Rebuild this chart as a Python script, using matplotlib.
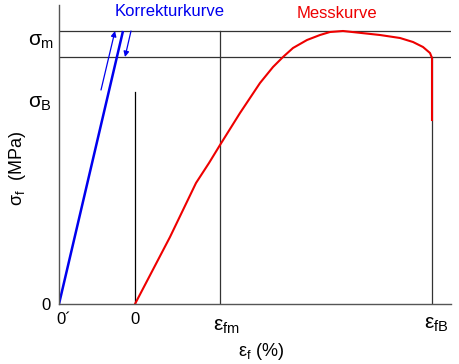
import matplotlib
matplotlib.use("Agg")
import matplotlib.pyplot as plt

plt.rcParams['font.family'] = ['Liberation Sans', 'DejaVu Sans']
plt.rcParams['mathtext.fontset'] = 'custom'
plt.rcParams['mathtext.rm'] = 'Liberation Sans'
plt.rcParams['mathtext.it'] = 'Liberation Sans'
plt.rcParams['mathtext.bf'] = 'Liberation Sans:bold'

# measured curve (strain, stress) in chart units, origin at 0'
mess_x = [76, 111, 137, 150, 161, 181, 201, 214, 224, 234, 248, 261, 271, 284,
          321, 341, 354, 364, 371, 373, 373]
mess_y = [0, 67, 121, 141, 159, 191, 221, 237, 247, 256, 264, 269, 272, 273,
          269, 266, 262, 257, 251, 246, 184]

# correction curve
korr_x = [0, 64]
korr_y = [0, 273]

# key levels
sigma_m = 273
sigma_B = 247
eps_0 = 76
eps_fm = 161
eps_fB = 373
x_max, y_max = 392, 299

fig = plt.figure(figsize=(4.6, 3.64), dpi=100)
ax = fig.add_axes([59 / 460, 60 / 364, 392 / 460, 299 / 364])
ax.set_xlim(0, x_max)
ax.set_ylim(0, y_max)
for s in ['top', 'right']:
    ax.spines[s].set_visible(False)
for s in ['left', 'bottom']:
    ax.spines[s].set_color('#555555')
    ax.spines[s].set_linewidth(1.0)
ax.set_xticks([])
ax.set_yticks([])

grid = '#333333'
ax.plot([0, x_max], [sigma_m, sigma_m], color=grid, lw=0.9)
ax.plot([0, x_max], [sigma_B, sigma_B], color=grid, lw=0.9)
ax.plot([eps_0, eps_0], [0, 212], color='black', lw=0.9)
ax.plot([eps_fm, eps_fm], [0, sigma_m], color=grid, lw=0.9)
ax.plot([eps_fB, eps_fB], [0, sigma_B], color=grid, lw=0.9)

ax.plot(korr_x, korr_y, color='#0000ee', lw=1.8, solid_capstyle='butt')
ax.plot(mess_x, mess_y, color='#ee0000', lw=1.5, solid_joinstyle='round')

ax.annotate('', xy=(56, 273), xytext=(42, 214),
            arrowprops=dict(arrowstyle='-|>', color='#0000ee', lw=0.9,
                            mutation_scale=8, shrinkA=0, shrinkB=0))
ax.annotate('', xy=(66, 247), xytext=(72, 273),
            arrowprops=dict(arrowstyle='-|>', color='#0000ee', lw=0.9,
                            mutation_scale=8, shrinkA=0, shrinkB=0))

def px(x, y, s, **kw):
    fig.text(x / 460, 1 - y / 364, s, ha='center', va='center', **kw)

px(170, 12, 'Korrekturkurve', color='#0000ee', fontsize=12)
px(337, 13, 'Messkurve', color='#ee0000', fontsize=12)
px(41, 42, r'$\sigma_{\rm m}$', fontsize=15)
px(40, 104, r'$\sigma_{\rm B}$', fontsize=15)
px(17, 168, r'$\sigma_{\rm f}$  (MPa)', fontsize=13, rotation=90)
px(46, 305, '0', fontsize=12)
px(64, 319, "0\u00b4", fontsize=12)
px(135, 320, '0', fontsize=12)
px(226, 326, r'$\epsilon_{\rm fm}$', fontsize=15)
px(436, 324, r'$\epsilon_{\rm fB}$', fontsize=15)
px(261, 351, r'$\epsilon_{\rm f}$ (%)', fontsize=13)

fig.savefig('out.png', dpi=100, facecolor='white')
